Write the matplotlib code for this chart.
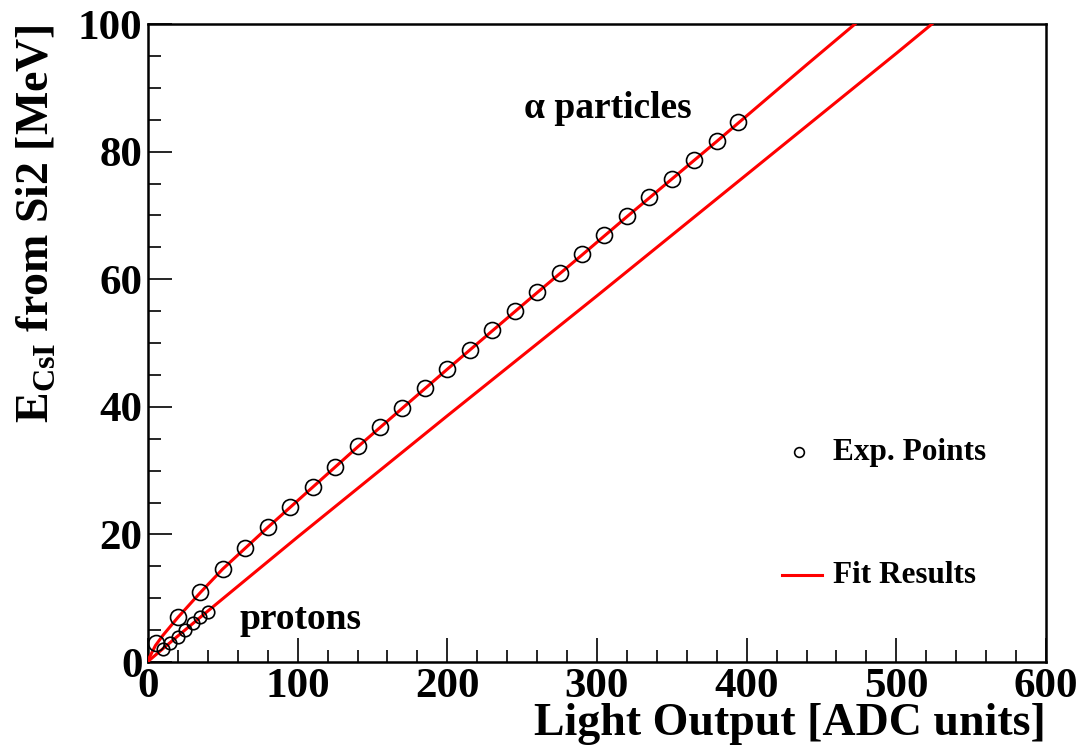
import numpy as np
import matplotlib.pyplot as plt
from matplotlib.ticker import MultipleLocator

plt.rcParams['font.family'] = ['Liberation Serif', 'DejaVu Serif']
plt.rcParams['mathtext.fontset'] = 'custom'
plt.rcParams['mathtext.rm'] = 'Liberation Serif:bold'
plt.rcParams['mathtext.bf'] = 'Liberation Serif:bold'

# alpha particle calibration points (light output vs energy)
alpha_x = [5, 20, 35, 50, 65, 80, 95, 110, 125, 140, 155, 170, 185, 200,
           215, 230, 245, 260, 275, 290, 305, 320, 335, 350, 365, 380, 394]
alpha_y = [3.0, 7.05, 11.0, 14.6, 17.9, 21.2, 24.3, 27.4, 30.6, 33.9, 36.8,
           39.8, 42.9, 45.9, 48.9, 52.0, 55.0, 58.0, 61.0, 63.9, 67.0, 69.9,
           72.9, 75.7, 78.7, 81.7, 84.6]

# proton calibration points
proton_x = [10, 15, 20, 25, 30, 35, 40]
proton_y = [2.0, 3.0, 4.0, 5.0, 6.1, 7.1, 7.9]

# fit curves
alpha_fit_x = [0, 5, 10, 20, 35, 50, 80, 110, 140, 170, 200, 230, 260, 290,
               320, 350, 380, 410, 440, 472.4]
alpha_fit_y = [0.3, 2.6, 4.2, 7.0, 10.9, 14.6, 21.1, 27.4, 33.7, 39.8, 45.9,
               51.9, 57.9, 63.8, 69.8, 75.7, 81.6, 87.6, 93.6, 100]
proton_fit_x = [0, 10, 20, 40, 100, 200, 300, 400, 500, 523.8]
proton_fit_y = [0.1, 2.1, 4.1, 8.0, 19.6, 38.6, 57.4, 76.4, 95.4, 100]

fig = plt.figure(figsize=(10.82, 7.53), dpi=100)
ax = fig.add_axes([0.1368, 0.1208, 0.8299, 0.8473])

ax.plot(alpha_fit_x, alpha_fit_y, color='#ff0000', lw=2.2, zorder=3)
ax.plot(proton_fit_x, proton_fit_y, color='#ff0000', lw=2.2, zorder=3)
ax.plot(alpha_x, alpha_y, 'o', mfc='none', mec='black', mew=1.2, ms=11.5, zorder=4)
ax.plot(proton_x, proton_y, 'o', mfc='none', mec='black', mew=1.2, ms=9, zorder=4)

ax.set_xlim(0, 600)
ax.set_ylim(0, 100)
ax.xaxis.set_major_locator(MultipleLocator(100))
ax.xaxis.set_minor_locator(MultipleLocator(20))
ax.yaxis.set_major_locator(MultipleLocator(20))
ax.yaxis.set_minor_locator(MultipleLocator(5))
ax.tick_params(which='both', direction='in', top=False, right=False, width=1.2)
ax.tick_params(which='major', length=17, labelsize=31, pad=4)
ax.tick_params(which='minor', length=9)
for lab in ax.get_xticklabels() + ax.get_yticklabels():
    lab.set_fontweight('bold')
for s in ax.spines.values():
    s.set_linewidth(1.8)

ax.set_xlabel('Light Output [ADC units]', fontsize=33, fontweight='bold', loc='right', labelpad=-2)
ax.set_ylabel(r'E$_{\mathbf{CsI}}$ from Si2 [MeV]', fontsize=33, fontweight='bold', loc='top', labelpad=14)

ax.text(307, 86.8, 'α particles', fontsize=27, fontweight='bold', ha='center', va='center')
ax.text(102, 6.6, 'protons', fontsize=27, fontweight='bold', ha='center', va='center')

# legend drawn as in ROOT TLegend
ax.plot([435], [32.9], 'o', mfc='none', mec='black', mew=1.2, ms=7)
ax.text(457.6, 32.9, 'Exp. Points', fontsize=22.5, fontweight='bold', va='center')
ax.plot([423.6, 450.3], [13.6, 13.6], color='#ff0000', lw=2.2)
ax.text(457.6, 13.6, 'Fit Results', fontsize=22.5, fontweight='bold', va='center')

fig.savefig('out.png', dpi=100)
